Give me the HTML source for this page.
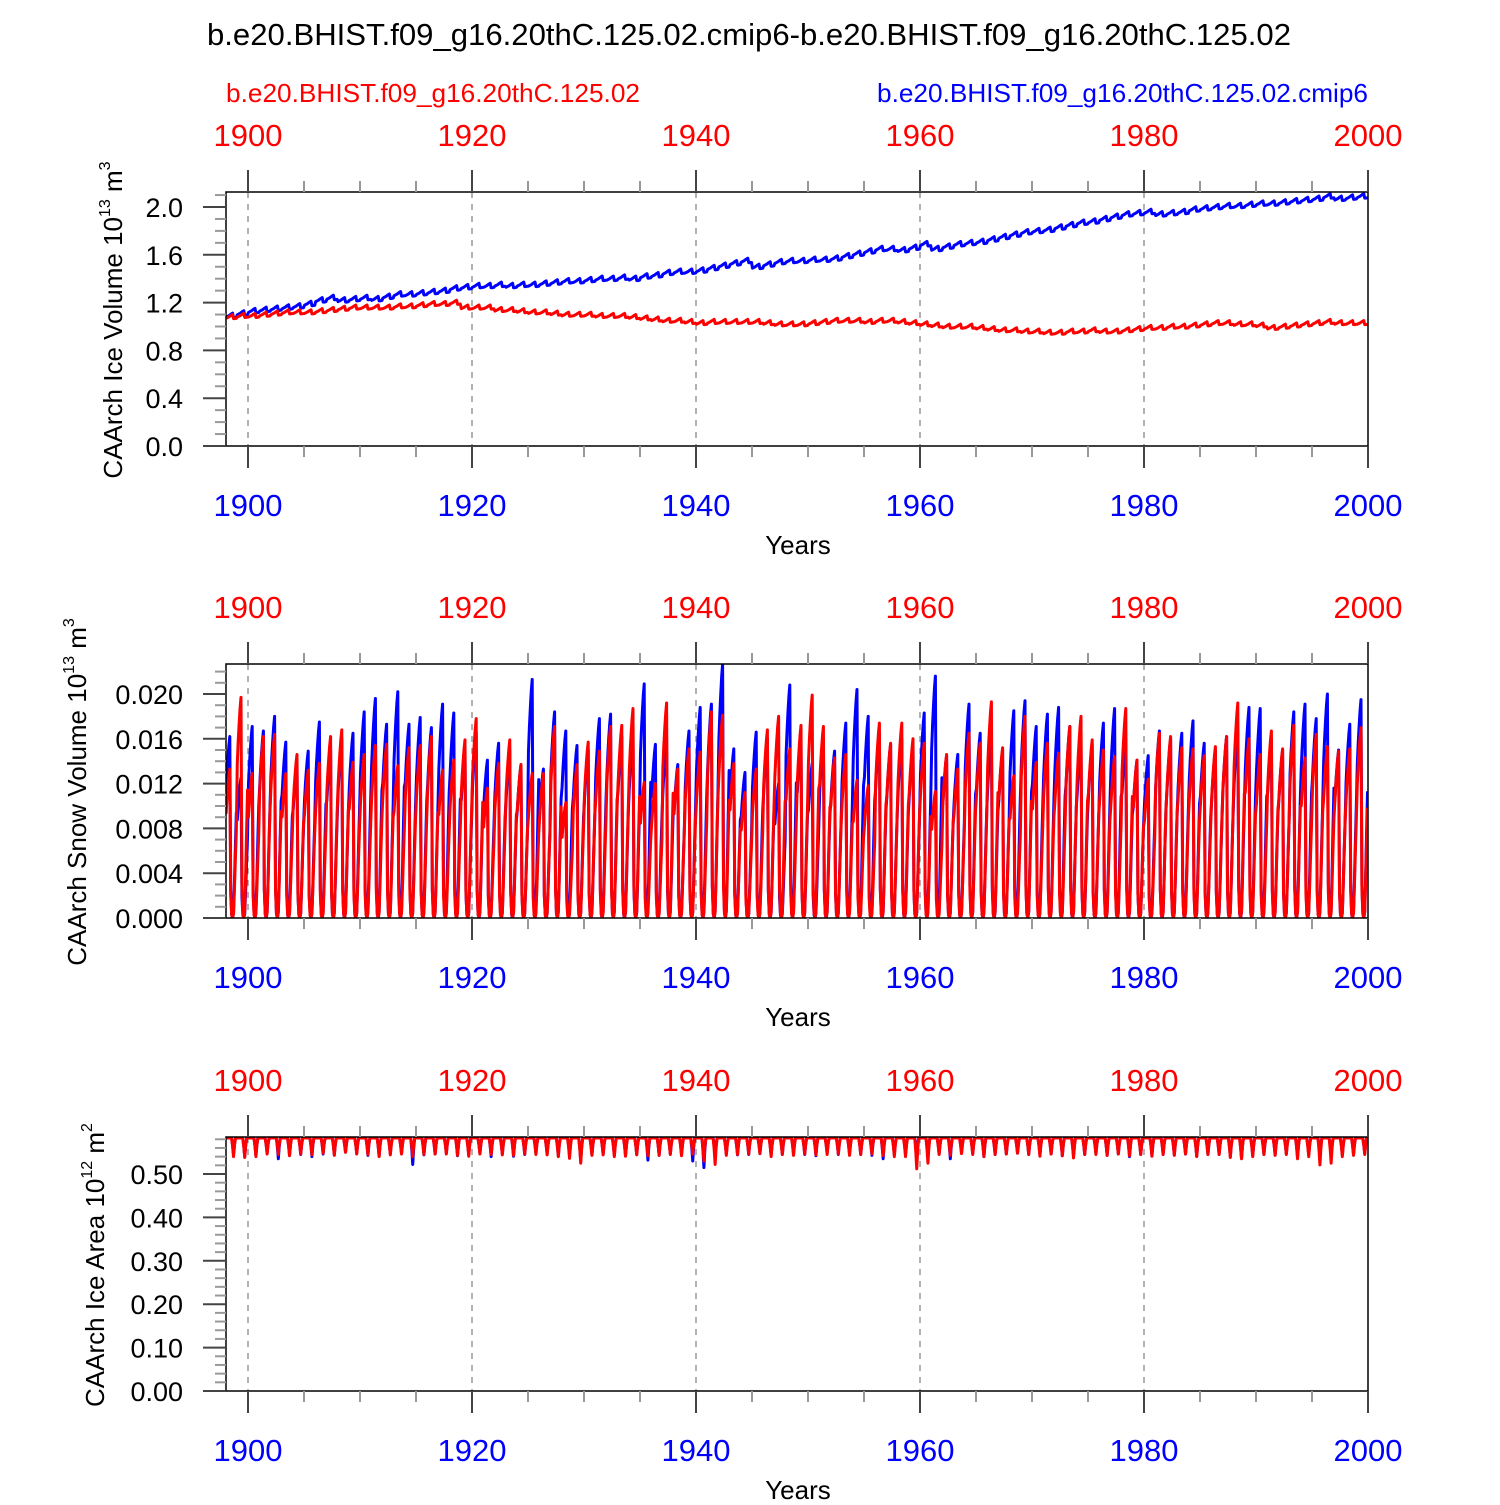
<!DOCTYPE html>
<html><head><meta charset="utf-8"><style>
html,body{margin:0;padding:0;background:#fff}
svg text{font-family:"Liberation Sans",sans-serif}
</style></head><body>
<svg id="chart" width="1500" height="1500" viewBox="0 0 1500 1500" xmlns="http://www.w3.org/2000/svg">
<rect x="0" y="0" width="1500" height="1500" fill="#fff"/>
<text x="749" y="45" font-size="31" text-anchor="middle" textLength="1084" lengthAdjust="spacingAndGlyphs">b.e20.BHIST.f09_g16.20thC.125.02.cmip6-b.e20.BHIST.f09_g16.20thC.125.02</text>
<text x="226" y="102" font-size="26" fill="#ff0000" textLength="414" lengthAdjust="spacingAndGlyphs">b.e20.BHIST.f09_g16.20thC.125.02</text>
<text x="877" y="102" font-size="26" fill="#0000ff" textLength="491" lengthAdjust="spacingAndGlyphs">b.e20.BHIST.f09_g16.20thC.125.02.cmip6</text>
<g id="plots"></g>
</svg>
<script>
// ---- data ----
const years = []; for (let y = 1898; y <= 1999; y++) years.push(y);
const xTickLabels = ["1900","1920","1940","1960","1980","2000"];
const iceVolTicks = ["0.0","0.4","0.8","1.2","1.6","2.0"];
const snowTicks = ["0.000","0.004","0.008","0.012","0.016","0.020"];
const areaTicks = ["0.00","0.10","0.20","0.30","0.40","0.50"];

// Ice volume annual levels (10^13 m^3)
const iceVolBlue = [1.09,1.11,1.13,1.14,1.15,1.16,1.17,1.19,1.22,1.24,1.22,1.23,1.24,1.23,1.25,1.27,1.27,1.28,1.29,1.30,1.32,1.33,1.34,1.34,1.35,1.34,1.35,1.35,1.36,1.37,1.38,1.38,1.39,1.40,1.40,1.41,1.40,1.42,1.43,1.45,1.46,1.46,1.47,1.49,1.51,1.53,1.55,1.50,1.52,1.54,1.55,1.55,1.56,1.56,1.57,1.59,1.61,1.63,1.65,1.65,1.64,1.66,1.69,1.65,1.67,1.69,1.70,1.71,1.73,1.75,1.77,1.79,1.80,1.81,1.83,1.85,1.87,1.88,1.90,1.92,1.94,1.95,1.96,1.94,1.95,1.96,1.98,1.99,2.00,2.01,2.01,2.02,2.03,2.03,2.04,2.05,2.06,2.07,2.09,2.07,2.08,2.09];
const iceVolRed = [1.08,1.09,1.09,1.10,1.11,1.12,1.12,1.12,1.13,1.14,1.15,1.16,1.16,1.16,1.16,1.17,1.17,1.18,1.19,1.19,1.20,1.16,1.16,1.16,1.14,1.14,1.13,1.12,1.12,1.11,1.10,1.10,1.10,1.09,1.09,1.09,1.08,1.07,1.06,1.05,1.05,1.04,1.03,1.04,1.04,1.04,1.04,1.04,1.03,1.02,1.02,1.02,1.03,1.04,1.05,1.05,1.05,1.04,1.05,1.05,1.04,1.03,1.02,1.01,1.00,1.00,1.00,0.99,0.98,0.97,0.97,0.96,0.96,0.95,0.95,0.96,0.96,0.97,0.96,0.96,0.97,0.98,0.99,0.99,1.00,1.00,1.01,1.02,1.03,1.03,1.02,1.02,1.01,0.99,1.00,1.01,1.02,1.03,1.04,1.03,1.03,1.03];
const iceVolCycle = [-0.012,-0.008,-0.004,0,0.006,0.012,0.017,0.022,-0.016,-0.016,-0.014,-0.013];

// Snow volume annual peaks (10^13 m^3)
const snowPeakBlue = [0.0162,0.0125,0.0171,0.0167,0.0180,0.0157,0.0140,0.0149,0.0175,0.0150,0.0160,0.0165,0.0184,0.0196,0.0173,0.0202,0.0173,0.0179,0.0170,0.0191,0.0183,0.0150,0.0165,0.0141,0.0156,0.0150,0.0137,0.0213,0.0133,0.0184,0.0167,0.0154,0.0150,0.0178,0.0182,0.0162,0.0165,0.0209,0.0155,0.0160,0.0137,0.0167,0.0188,0.0191,0.0227,0.0151,0.0130,0.0166,0.0160,0.0120,0.0208,0.0160,0.0138,0.0160,0.0149,0.0174,0.0204,0.0180,0.0166,0.0155,0.0160,0.0155,0.0183,0.0216,0.0145,0.0146,0.0191,0.0165,0.0165,0.0150,0.0185,0.0194,0.0171,0.0182,0.0188,0.0171,0.0160,0.0155,0.0174,0.0187,0.0160,0.0141,0.0145,0.0167,0.0160,0.0165,0.0176,0.0156,0.0150,0.0162,0.0170,0.0188,0.0187,0.0160,0.0150,0.0184,0.0191,0.0178,0.0200,0.0150,0.0173,0.0195];
const snowPeakRed = [0.0133,0.0197,0.0129,0.0162,0.0164,0.0129,0.0146,0.0132,0.0138,0.0162,0.0168,0.0139,0.0146,0.0154,0.0155,0.0136,0.0152,0.0154,0.0162,0.0132,0.0141,0.0159,0.0178,0.0116,0.0138,0.0159,0.0137,0.0129,0.0129,0.0171,0.0103,0.0137,0.0157,0.0149,0.0171,0.0172,0.0187,0.0121,0.0120,0.0192,0.0133,0.0151,0.0148,0.0184,0.0181,0.0138,0.0112,0.0133,0.0168,0.0180,0.0151,0.0172,0.0199,0.0171,0.0143,0.0146,0.0123,0.0118,0.0174,0.0156,0.0174,0.0160,0.0156,0.0113,0.0146,0.0133,0.0165,0.0156,0.0193,0.0152,0.0127,0.0180,0.0139,0.0156,0.0147,0.0171,0.0180,0.0159,0.0150,0.0144,0.0187,0.0141,0.0124,0.0165,0.0162,0.0152,0.0151,0.0145,0.0153,0.0162,0.0192,0.0160,0.0146,0.0167,0.0151,0.0172,0.0143,0.0164,0.0153,0.0149,0.0151,0.0170];
const snowCycle = [0.70,0.80,0.88,0.95,1.0,0.15,0.02,0.0,0.03,0.2,0.4,0.58];

// Ice area: annual max and annual minimum (10^12 m^2)
const areaMax = 0.583;
const areaMinBlue = [0.545,0.540,0.542,0.548,0.535,0.543,0.545,0.540,0.546,0.544,0.550,0.548,0.543,0.541,0.546,0.547,0.522,0.544,0.546,0.548,0.542,0.545,0.547,0.540,0.546,0.541,0.545,0.547,0.546,0.541,0.543,0.530,0.544,0.545,0.543,0.542,0.545,0.532,0.543,0.546,0.544,0.530,0.515,0.540,0.546,0.544,0.545,0.547,0.543,0.545,0.546,0.545,0.542,0.548,0.545,0.546,0.545,0.543,0.535,0.545,0.545,0.545,0.543,0.546,0.535,0.548,0.547,0.540,0.545,0.546,0.548,0.545,0.544,0.546,0.542,0.543,0.545,0.547,0.543,0.546,0.540,0.545,0.543,0.545,0.544,0.546,0.541,0.545,0.545,0.540,0.536,0.542,0.545,0.544,0.546,0.539,0.545,0.543,0.540,0.544,0.545,0.548];
const areaMinRed = [0.540,0.538,0.540,0.546,0.545,0.542,0.546,0.544,0.548,0.543,0.550,0.546,0.545,0.540,0.544,0.546,0.540,0.545,0.546,0.546,0.543,0.541,0.546,0.545,0.544,0.543,0.546,0.545,0.544,0.540,0.536,0.525,0.543,0.544,0.540,0.541,0.544,0.542,0.543,0.545,0.542,0.546,0.530,0.522,0.543,0.545,0.546,0.547,0.540,0.545,0.543,0.546,0.544,0.545,0.546,0.543,0.545,0.546,0.542,0.540,0.540,0.512,0.525,0.545,0.543,0.547,0.545,0.540,0.545,0.546,0.548,0.545,0.541,0.546,0.542,0.537,0.545,0.545,0.543,0.546,0.542,0.545,0.541,0.545,0.543,0.546,0.540,0.545,0.545,0.538,0.535,0.540,0.545,0.543,0.545,0.535,0.540,0.521,0.525,0.540,0.543,0.545];
const areaCycle = [0,0,0,0,0,0,0.05,0.45,1.0,0.4,0.03,0];

// ---- layout ----
const NS = "http://www.w3.org/2000/svg";
const root = document.getElementById("plots");
const X0 = 226, X1 = 1368;
function xScale(t){ return 248 + (t - 1900) * 11.2; }
function mk(tag, attrs, parent){
  const e = document.createElementNS(NS, tag);
  for (const k in attrs) e.setAttribute(k, attrs[k]);
  (parent || root).appendChild(e);
  return e;
}

const panels = [
  {name:"ice-volume", top:192, bottom:446, ymax:(446-192)/119.5, ticks:iceVolTicks, major:0.4, minor:0.1,
   title:"CAArch Ice Volume 10", sup:"13", unit:" m", usup:"3", tx:122, tcy:320},
  {name:"snow-volume", top:664, bottom:918, ymax:254/11200, ticks:snowTicks, major:0.004, minor:0.001,
   title:"CAArch Snow Volume 10", sup:"13", unit:" m", usup:"3", tx:86, tcy:792},
  {name:"ice-area", top:1137, bottom:1391, ymax:254/434, ticks:areaTicks, major:0.1, minor:0.02,
   title:"CAArch Ice Area 10", sup:"12", unit:" m", usup:"2", tx:104, tcy:1265}
];

function seriesPoints(p, fn){
  const pts = [];
  years.forEach((yr, i) => {
    for (let m = 0; m < 12; m++) {
      const t = yr + (m + 0.5) / 12;
      const v = fn(i, m);
      const y = p.bottom - (v / p.ymax) * (p.bottom - p.top);
      pts.push(xScale(t).toFixed(2) + "," + y.toFixed(2));
    }
  });
  return pts.join(" ");
}

panels.forEach((p, pi) => {
  const g = mk("g", {});
  
  
  const clipId = "clip" + pi;
  const cp = mk("clipPath", {id: clipId}, g);
  mk("rect", {x:X0, y:p.top, width:X1-X0, height:p.bottom-p.top}, cp);
  const yS = v => p.bottom - (v / p.ymax) * (p.bottom - p.top);

  for (let k = 0; k < 5; k++) {
    const x = xScale(1900 + 20*k);
    const gl = mk("line", {x1:x, x2:x, y1:p.top, y2:p.bottom, stroke:"#888", "stroke-width":1.3, "stroke-dasharray":"6,6"}, g);
    
    
  }

  const lines = [];
  if (pi === 0) {
    lines.push(["#0000ff", (i,m) => iceVolBlue[i] + iceVolCycle[m], "ice-volume-blue-line"]);
    lines.push(["#ff0000", (i,m) => iceVolRed[i] + iceVolCycle[m]*0.9, "ice-volume-red-line"]);
  } else if (pi === 1) {
    lines.push(["#0000ff", (i,m) => snowPeakBlue[i] * snowCycle[m], "snow-volume-blue-line"]);
    lines.push(["#ff0000", (i,m) => snowPeakRed[i] * snowCycle[m], "snow-volume-red-line"]);
  } else {
    lines.push(["#0000ff", (i,m) => areaMax - (areaMax - areaMinBlue[i]) * areaCycle[m], "ice-area-blue-line"]);
    lines.push(["#ff0000", (i,m) => areaMax - (areaMax - areaMinRed[i]) * areaCycle[m], "ice-area-red-line"]);
  }
  lines.forEach(L => {
    const pl = mk("polyline", {points: seriesPoints(p, L[1]), fill:"none", stroke:L[0], "stroke-width":3, "stroke-linejoin":"round", "clip-path":"url(#"+clipId+")"}, g);
    
    
  });

  const fr = mk("rect", {x:X0, y:p.top, width:X1-X0, height:p.bottom-p.top, fill:"none", stroke:"#000", "stroke-width":1.5}, g);
  
  

  for (let yr = 1900; yr <= 2000; yr += 5) {
    const x = xScale(yr);
    const maj = (yr % 20 === 0);
    const len = maj ? 22 : 11;
    const col = maj ? "#444" : "#999";
    mk("line", {x1:x, x2:x, y1:p.top - len, y2:p.top, stroke:col, "stroke-width":2}, g);
    mk("line", {x1:x, x2:x, y1:p.bottom, y2:p.bottom + len, stroke:col, "stroke-width":2}, g);
  }
  xTickLabels.forEach((lab, k) => {
    const x = xScale(1900 + 20*k);
    const t1 = mk("text", {x:x, y:p.top - 46, "font-size":31, fill:"#ff0000", "text-anchor":"middle"}, g);
    t1.textContent = lab;
    
    
    const t2 = mk("text", {x:x, y:p.bottom + 70, "font-size":31, fill:"#0000ff", "text-anchor":"middle"}, g);
    t2.textContent = lab;
    
    
  });
  const xt = mk("text", {x:798, y:p.bottom + 108, "font-size":26, "text-anchor":"middle"}, g);
  xt.textContent = "Years";
  
  

  const nMinor = Math.round(p.ymax / p.minor + 1e-6);
  for (let k = 0; k <= nMinor; k++) {
    const v = k * p.minor;
    if (v > p.ymax + 1e-9) break;
    const isMaj = Math.abs(v / p.major - Math.round(v / p.major)) < 1e-6;
    const y = yS(v);
    mk("line", {x1:X0 - (isMaj ? 23 : 11), x2:X0, y1:y, y2:y, stroke:isMaj ? "#444" : "#999", "stroke-width":2}, g);
  }
  p.ticks.forEach((lab, k) => {
    const t = mk("text", {x:183, y:yS(k*p.major) + 10, "font-size":27, "text-anchor":"end"}, g);
    t.textContent = lab;
    
    
  });

  const yt = mk("text", {transform:"translate(" + p.tx + "," + p.tcy + ") rotate(-90)", "font-size":26, "text-anchor":"middle"}, g);
  
  
  const s1 = mk("tspan", {}, yt); s1.textContent = p.title;
  const s2 = mk("tspan", {"font-size":16, dy:-12}, yt); s2.textContent = p.sup;
  const s3 = mk("tspan", {dy:12}, yt); s3.textContent = p.unit;
  const s4 = mk("tspan", {"font-size":16, dy:-12}, yt); s4.textContent = p.usup;
});
</script>
</body></html>
